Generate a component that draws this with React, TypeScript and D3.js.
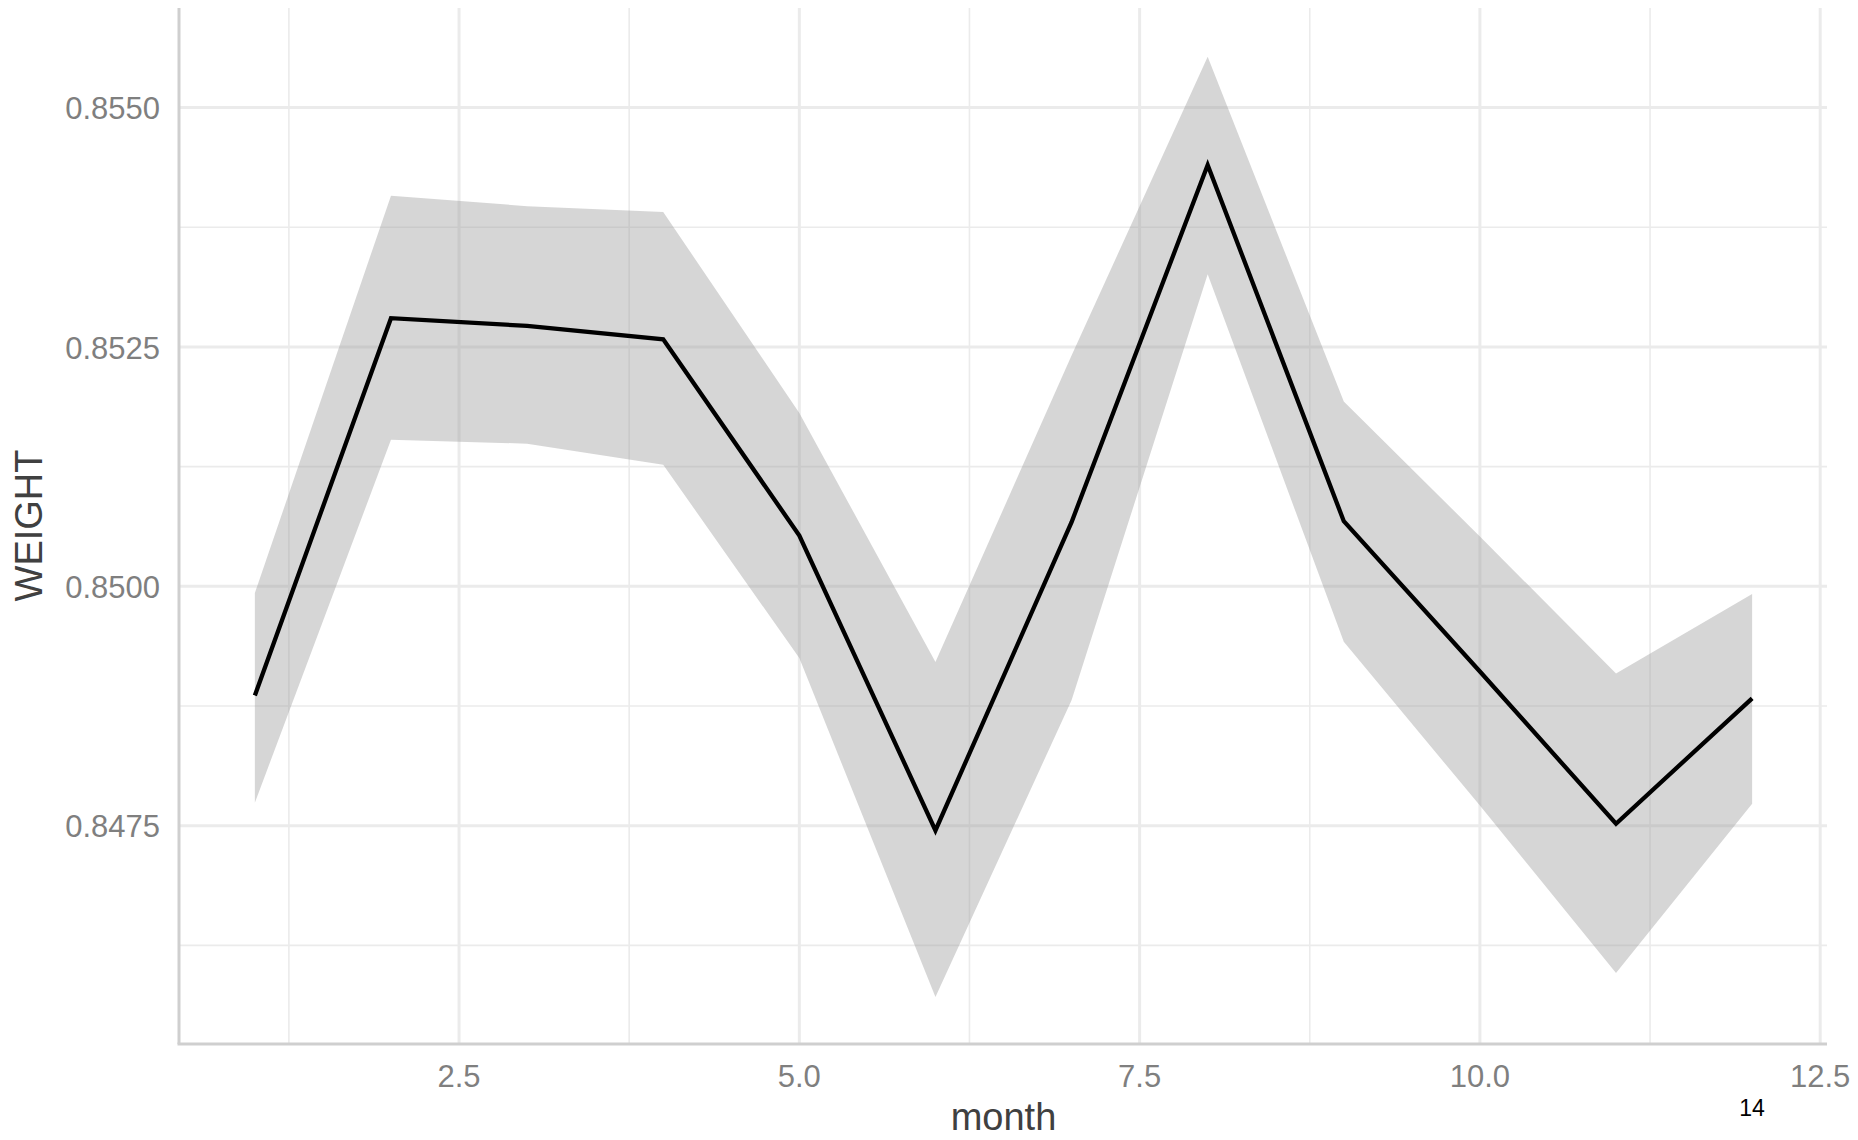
import React from "react";
import * as d3 from "d3";

const months = [1, 2, 3, 4, 5, 6, 7, 8, 9, 10, 11, 12];
const weight = [0.84886, 0.8528, 0.85272, 0.85258, 0.85053, 0.84745, 0.85067, 0.8544, 0.85068, 0.84911, 0.84752, 0.84883];
const upper = [0.84993, 0.85408, 0.85397, 0.85391, 0.85181, 0.84921, 0.85241, 0.85553, 0.85193, 0.85052, 0.84909, 0.84992];
const lower = [0.84774, 0.85153, 0.85149, 0.85127, 0.84925, 0.84571, 0.84881, 0.85326, 0.84942, 0.84771, 0.84596, 0.84773];
const xTicks = [2.5, 5.0, 7.5, 10.0, 12.5];
const xMinor = [1.25, 3.75, 6.25, 8.75, 11.25];
const yTicks = [0.8475, 0.85, 0.8525, 0.855];
const yMinor = [0.84625, 0.84875, 0.85125, 0.85375];
const xLabel = "month";
const yLabel = "WEIGHT";
const note = "14";

const W = 1858;
const H = 1140;
const left = 180;
const right = 1827;
const top = 8;
const bottom = 1043;
const font = "'Liberation Sans', Arial, sans-serif";

export default function App() {
  const x = d3.scaleLinear().domain([0.45, 12.55]).range([left, right]);
  const y = d3.scaleLinear().domain([0.84523, 0.85604]).range([bottom, top]);

  const rows = months.map((m, i) => ({ m, v: weight[i], lo: lower[i], hi: upper[i] }));
  const area = d3
    .area<any>()
    .x((d) => x(d.m))
    .y0((d) => y(d.lo))
    .y1((d) => y(d.hi));
  const line = d3
    .line<any>()
    .x((d) => x(d.m))
    .y((d) => y(d.v));

  return (
    <svg
      width={W}
      height={H}
      style={{ position: "absolute", left: 0, top: 0, background: "#fff" }}
      fontFamily={font}
    >
      <rect x={0} y={0} width={W} height={H} fill="#fff" />
      {xMinor.map((t) => (
        <line key={"xm" + t} x1={x(t)} x2={x(t)} y1={top} y2={bottom} stroke="#ebebeb" strokeWidth={1.6} />
      ))}
      {yMinor.map((t) => (
        <line key={"ym" + t} x1={left} x2={right} y1={y(t)} y2={y(t)} stroke="#ebebeb" strokeWidth={1.6} />
      ))}
      {xTicks.map((t) => (
        <line key={"xM" + t} x1={x(t)} x2={x(t)} y1={top} y2={bottom} stroke="#ebebeb" strokeWidth={3} />
      ))}
      {yTicks.map((t) => (
        <line key={"yM" + t} x1={left} x2={right} y1={y(t)} y2={y(t)} stroke="#ebebeb" strokeWidth={3} />
      ))}
      <path d={area(rows) || ""} fill="#999999" fillOpacity={0.4} stroke="none" />
      <path d={line(rows) || ""} fill="none" stroke="#000" strokeWidth={4.3} strokeLinejoin="miter" />
      <line x1={left - 1} x2={left - 1} y1={top} y2={bottom + 1} stroke="#cfcfcf" strokeWidth={3} />
      <line x1={left - 2.5} x2={right} y1={bottom + 1} y2={bottom + 1} stroke="#cfcfcf" strokeWidth={3} />
      {xTicks.map((t) => (
        <text key={"xl" + t} x={x(t)} y={1087} textAnchor="middle" fontSize={31} fill="#7f7f7f">
          {d3.format(".1f")(t)}
        </text>
      ))}
      {yTicks.map((t) => (
        <text key={"yl" + t} x={160} y={y(t)} dy="0.38em" textAnchor="end" fontSize={31} fill="#7f7f7f">
          {d3.format(".4f")(t)}
        </text>
      ))}
      <text x={(left + right) / 2} y={1130} textAnchor="middle" fontSize={38} fill="#404040">
        {xLabel}
      </text>
      <text
        transform={`translate(42, ${(top + bottom) / 2}) rotate(-90)`}
        textAnchor="middle"
        fontSize={38}
        fill="#404040"
      >
        {yLabel}
      </text>
      <text x={x(12)} y={1116} textAnchor="middle" fontSize={23} fill="#000" fontFamily={font}>
        {note}
      </text>
    </svg>
  );
}
